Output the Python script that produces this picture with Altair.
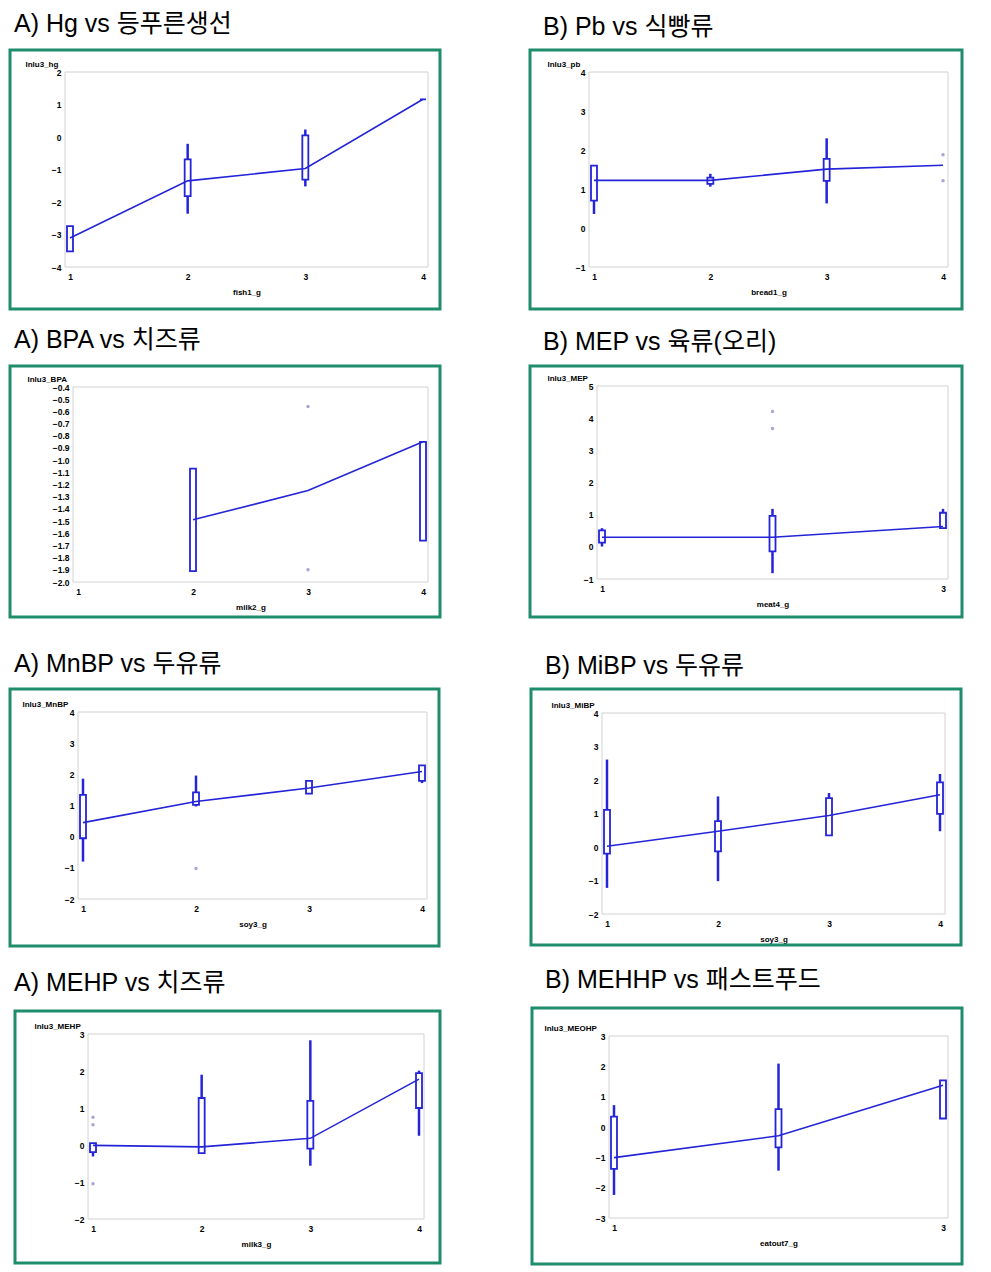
import altair as alt
import pandas as pd

FONT_T = "Liberation Sans, Noto Sans CJK KR"
FONT_A = "Liberation Sans"
BLUE = "#2424d8"
GREEN = "#1f8c6c"
OUTC = "#a6a6d2"
FRAMEC = "#d2d2d2"

# ---------------- texts ----------------
titles = ["A) Hg vs 등푸른생선", "B) Pb vs 식빵류", "A) BPA vs 치즈류", "B) MEP vs 육류(오리)",
          "A) MnBP vs 두유류", "B) MiBP vs 두유류", "A) MEHP vs 치즈류", "B) MEHHP vs 패스트푸드"]
x_titles = ["fish1_g", "bread1_g", "milk2_g", "meat4_g", "soy3_g", "soy3_g", "milk3_g", "eatout7_g"]
y_titles = ["lnlu3_hg", "lnlu3_pb", "lnlu3_BPA", "lnlu3_MEP", "lnlu3_MnBP", "lnlu3_MiBP",
            "lnlu3_MEHP", "lnlu3_MEOHP"]

# ---------------- data ----------------
# 1) Hg vs fish1_g
hg_box_g = [1, 2, 3, 4]
hg_q1 = [-3.52, -1.82, -1.31, 1.16]
hg_q3 = [-2.74, -0.69, 0.05, 1.16]
hg_wlo = [-3.52, -2.36, -1.52, 1.16]
hg_whi = [-2.74, -0.21, 0.23, 1.16]
hg_mean_g = [1, 2, 3, 4]
hg_mean = [-3.11, -1.35, -0.97, 1.16]
hg_out_g = []
hg_out = []

# 2) Pb vs bread1_g
pb_box_g = [1, 2, 3]
pb_q1 = [0.70, 1.13, 1.21]
pb_q3 = [1.60, 1.29, 1.77]
pb_wlo = [0.36, 1.06, 0.63]
pb_whi = [1.60, 1.39, 2.30]
pb_mean_g = [1, 2, 3, 4]
pb_mean = [1.22, 1.22, 1.51, 1.61]
pb_out_g = [4, 4]
pb_out = [1.88, 1.21]

# 3) BPA vs milk2_g
bpa_box_g = [2, 4]
bpa_q1 = [-1.91, -1.66]
bpa_q3 = [-1.07, -0.85]
bpa_wlo = [-1.91, -1.66]
bpa_whi = [-1.07, -0.85]
bpa_mean_g = [2, 3, 4]
bpa_mean = [-1.49, -1.25, -0.85]
bpa_out_g = [3, 3]
bpa_out = [-0.56, -1.90]

# 4) MEP vs meat4_g
mep_box_g = [1, 2, 3]
mep_q1 = [0.13, -0.14, 0.58]
mep_q3 = [0.51, 0.96, 1.06]
mep_wlo = [0.01, -0.82, 0.58]
mep_whi = [0.58, 1.18, 1.18]
mep_mean_g = [1, 2, 3]
mep_mean = [0.30, 0.30, 0.63]
mep_out_g = [2, 2]
mep_out = [4.21, 3.68]

# 5) MnBP vs soy3_g
mnbp_box_g = [1, 2, 3, 4]
mnbp_q1 = [-0.05, 1.02, 1.38, 1.79]
mnbp_q3 = [1.34, 1.42, 1.79, 2.29]
mnbp_wlo = [-0.80, 0.97, 1.38, 1.72]
mnbp_whi = [1.86, 1.96, 1.79, 2.29]
mnbp_mean_g = [1, 2, 3, 4]
mnbp_mean = [0.45, 1.13, 1.56, 2.09]
mnbp_out_g = [2]
mnbp_out = [-1.02]

# 6) MiBP vs soy3_g
mibp_box_g = [1, 2, 3, 4]
mibp_q1 = [-0.20, -0.13, 0.35, 0.99]
mibp_q3 = [1.11, 0.77, 1.46, 1.93]
mibp_wlo = [-1.22, -1.02, 0.35, 0.47]
mibp_whi = [2.61, 1.51, 1.61, 2.18]
mibp_mean_g = [1, 2, 3, 4]
mibp_mean = [0.02, 0.47, 0.94, 1.56]
mibp_out_g = []
mibp_out = []

# 7) MEHP vs milk3_g
mehp_box_g = [1, 2, 3, 4]
mehp_q1 = [-0.19, -0.22, -0.10, 1.00]
mehp_q3 = [0.05, 1.27, 1.19, 1.94]
mehp_wlo = [-0.31, -0.22, -0.56, 0.25]
mehp_whi = [0.05, 1.90, 2.83, 2.01]
mehp_mean_g = [1, 2, 3, 4]
mehp_mean = [-0.01, -0.05, 0.18, 1.78]
mehp_out_g = [1, 1, 1]
mehp_out = [0.75, 0.55, -1.05]

# 8) MEHHP vs eatout7_g
mehhp_box_g = [1, 2, 3]
mehhp_q1 = [-1.38, -0.67, 0.28]
mehhp_q3 = [0.34, 0.59, 1.54]
mehhp_wlo = [-2.24, -1.44, 0.28]
mehhp_whi = [0.72, 2.09, 1.54]
mehhp_mean_g = [1, 2, 3]
mehhp_mean = [-1.01, -0.29, 1.38]
mehhp_out_g = []
mehhp_out = []

# axis ticks
x_ticks4 = [1, 2, 3, 4]
x_ticks3 = [1, 2, 3]
y_ticks = [
    [-4, -3, -2, -1, 0, 1, 2],
    [-1, 0, 1, 2, 3, 4],
    [-2.0, -1.9, -1.8, -1.7, -1.6, -1.5, -1.4, -1.3, -1.2, -1.1, -1.0, -0.9, -0.8, -0.7, -0.6, -0.5, -0.4],
    [-1, 0, 1, 2, 3, 4, 5],
    [-2, -1, 0, 1, 2, 3, 4],
    [-2, -1, 0, 1, 2, 3, 4],
    [-2, -1, 0, 1, 2, 3],
    [-3, -2, -1, 0, 1, 2, 3],
]
x_ticks = [x_ticks4, x_ticks4, x_ticks4, x_ticks3, x_ticks4, x_ticks4, x_ticks4, x_ticks3]

series = [
    (hg_box_g, hg_q1, hg_q3, hg_wlo, hg_whi, hg_mean_g, hg_mean, hg_out_g, hg_out),
    (pb_box_g, pb_q1, pb_q3, pb_wlo, pb_whi, pb_mean_g, pb_mean, pb_out_g, pb_out),
    (bpa_box_g, bpa_q1, bpa_q3, bpa_wlo, bpa_whi, bpa_mean_g, bpa_mean, bpa_out_g, bpa_out),
    (mep_box_g, mep_q1, mep_q3, mep_wlo, mep_whi, mep_mean_g, mep_mean, mep_out_g, mep_out),
    (mnbp_box_g, mnbp_q1, mnbp_q3, mnbp_wlo, mnbp_whi, mnbp_mean_g, mnbp_mean, mnbp_out_g, mnbp_out),
    (mibp_box_g, mibp_q1, mibp_q3, mibp_wlo, mibp_whi, mibp_mean_g, mibp_mean, mibp_out_g, mibp_out),
    (mehp_box_g, mehp_q1, mehp_q3, mehp_wlo, mehp_whi, mehp_mean_g, mehp_mean, mehp_out_g, mehp_out),
    (mehhp_box_g, mehhp_q1, mehhp_q3, mehhp_wlo, mehhp_whi, mehhp_mean_g, mehhp_mean, mehhp_out_g, mehhp_out),
]

# ---------------- layout (page pixels) ----------------
LAYOUT = [
    dict(box=(10, 50, 440, 309), plot=(65, 72, 428, 267), title=(14, 24), ylab=25, row=0, col=0),
    dict(box=(530, 50, 962, 309), plot=(589, 72, 948, 267), title=(543, 27), ylab=547, row=0, col=1),
    dict(box=(10, 366, 440, 617), plot=(73, 387, 428, 582), title=(14, 340), ylab=27, row=1, col=0),
    dict(box=(530, 366, 962, 617), plot=(597, 386, 948, 579), title=(543, 342), ylab=547, row=1, col=1),
    dict(box=(10, 689, 439, 946), plot=(78, 712, 427, 899), title=(14, 664), ylab=22, row=2, col=0),
    dict(box=(531, 689, 961, 945), plot=(602, 713, 945, 914), title=(545, 666), ylab=551, row=2, col=1),
    dict(box=(15, 1011, 440, 1263), plot=(88, 1034, 424, 1219), title=(14, 983), ylab=34, row=3, col=0),
    dict(box=(532, 1008, 962, 1264), plot=(609, 1036, 948, 1218), title=(545, 980), ylab=544, row=3, col=1),
]
COLS = [(8, 443), (443, 978)]
ROWS = [(8, 312), (312, 621), (621, 950), (950, 1268)]


def make_panel(i):
    L = LAYOUT[i]
    bx0, by0, bx1, by1 = L["box"]
    px0, py0, px1, py1 = L["plot"]
    cx0, cx1 = COLS[L["col"]]
    cy0, cy1 = ROWS[L["row"]]
    CW, CH = cx1 - cx0, cy1 - cy0
    ax0, ax1 = px0 - cx0, px1 - cx0
    ay0, ay1 = py0 - cy0, py1 - cy0
    box_g, q1, q3, wlo, whi, mg, mv, og, ov = series[i]
    xt = x_ticks[i]
    yt = y_ticks[i]
    fmt = ".1f" if i == 2 else "d"

    common = dict(grid=False, domain=False, ticks=False,
                  labelFont=FONT_A, labelFontSize=8.5, labelFontWeight="bold", labelColor="#000000",
                  titleFont=FONT_A, titleFontSize=8, titleFontWeight="bold", titleColor="#000000")
    xs = alt.Scale(domain=[xt[0], xt[-1]], range=[ax0, ax1], nice=False, zero=False)
    ys = alt.Scale(domain=[yt[0], yt[-1]], range=[ay1, ay0], nice=False, zero=False)
    xax = alt.Axis(values=xt, format="d", title=x_titles[i], offset=-(CH - ay1), labelPadding=5,
                   titleX=(ax0 + ax1) / 2, titleY=25, titleBaseline="middle", titleAlign="center",
                   **common)
    yax = alt.Axis(values=yt, format=fmt, title=y_titles[i], offset=-ax0, labelPadding=4,
                   titleAngle=0, titleAlign="left", titleBaseline="alphabetic",
                   titleX=L["ylab"] - px0, titleY=ay0 - 6, **common)
    X = lambda f: alt.X(f, type="quantitative", scale=xs, axis=xax)
    Y = lambda f: alt.Y(f, type="quantitative", scale=ys, axis=yax)

    one = pd.DataFrame({"k": [0]})
    frame = alt.Chart(one).mark_rect(fillOpacity=0, stroke=GREEN, strokeWidth=3).encode(
        x=alt.value(bx0 - cx0), x2=alt.value(bx1 - cx0),
        y=alt.value(by0 - cy0), y2=alt.value(by1 - cy0))
    pframe = alt.Chart(one).mark_rect(fillOpacity=0, stroke=FRAMEC, strokeWidth=1).encode(
        x=alt.value(ax0), x2=alt.value(ax1), y=alt.value(ay0), y2=alt.value(ay1))
    ttl = alt.Chart(one).mark_text(align="left", baseline="middle", fontSize=25,
                                   font=FONT_T, color="#000000").encode(
        x=alt.value(L["title"][0] - cx0), y=alt.value(L["title"][1] - cy0),
        text=alt.value(titles[i]))

    bdf = pd.DataFrame({"g": box_g, "q1": q1, "q3": q3, "lo": wlo, "hi": whi})
    whisk = alt.Chart(bdf).mark_rule(color=BLUE, strokeWidth=2.5).encode(
        x=X("g"), y=Y("lo"), y2="hi")
    boxes = alt.Chart(bdf).mark_bar(size=6, fill="white", stroke=BLUE, strokeWidth=1.8).encode(
        x=X("g"), y=Y("q1"), y2="q3")
    mdf = pd.DataFrame({"g": mg, "v": mv})
    line = alt.Chart(mdf).mark_line(color=BLUE, strokeWidth=1.6).encode(x=X("g"), y=Y("v"))
    layers = [frame, pframe, whisk, boxes, line]
    if og:
        odf = pd.DataFrame({"g": og, "v": ov})
        pts = alt.Chart(odf).mark_circle(size=12, color=OUTC, opacity=1).encode(x=X("g"), y=Y("v"))
        layers.append(pts)
    layers.append(ttl)
    return alt.layer(*layers).properties(
        width=CW, height=CH, view=alt.ViewBackground(stroke="transparent", strokeWidth=0))


rows = []
for r in range(4):
    rows.append(alt.hconcat(make_panel(2 * r), make_panel(2 * r + 1), spacing=0))

chart = alt.vconcat(*rows, spacing=0).properties(
    padding=0, background="white"
).configure_view(
    stroke="transparent", strokeWidth=0
).configure_concat(spacing=0)

chart.save("out.html", embed_options={"renderer": "svg", "actions": False})
